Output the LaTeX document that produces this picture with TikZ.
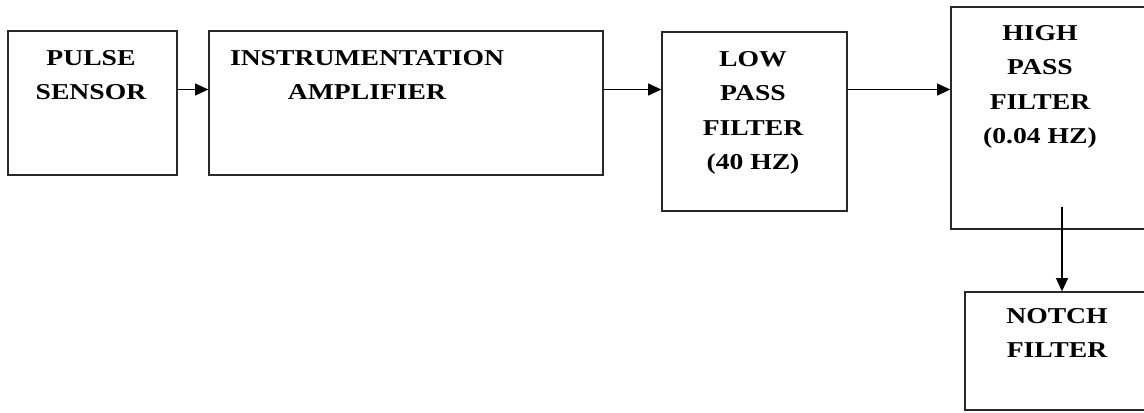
\documentclass[tikz,border=0pt]{standalone}
\usepackage{fontspec}
\setmainfont{Liberation Serif}[FakeStretch=1.22]
\usepackage{tikz}
\usetikzlibrary{arrows.meta, positioning, calc}
\definecolor{cLine}{RGB}{40,40,40}
\tikzset{
    block/.style   ={rectangle, draw=cLine, line width=1pt, inner sep=0pt},
    blocktext/.style={anchor=north, inner sep=0pt, align=center, font=\fontsize{17}{25.9}\selectfont\bfseries},
    sigarrow/.style={-{Triangle[length=10pt,width=9pt]}, line width=1.1pt, draw=black, fill=black},
}
\begin{document}
\begin{tikzpicture}[x=0.75pt, y=-0.75pt]
                \useasboundingbox (0,0) rectangle (1144,412);
                \clip (0,0) rectangle (1144,412);
                % blocks
                \node[block, minimum width=169*0.75pt, minimum height=144*0.75pt] (pulse) at (92.5,103) {};
                \node[block, minimum width=394*0.75pt, minimum height=144*0.75pt] (amp) at (406,103) {};
                \node[block, minimum width=185*0.75pt, minimum height=179*0.75pt] (lpf) at (754.5,121.5) {};
                \node[block, minimum width=229*0.75pt, minimum height=222*0.75pt] (hpf) at (1065.5,118) {};
                \node[block, minimum width=215*0.75pt, minimum height=118*0.75pt] (notch) at (1072.5,351) {};
                % labels
                \node[blocktext] (pulsetxt) at (91,50) {PULSE\\SENSOR};
                \node[blocktext] (amptxt) at (367,50) {INSTRUMENTATION\\AMPLIFIER};
                \node[blocktext] (lpftxt) at (753,51) {LOW\\PASS\\FILTER\\(40 HZ)};
                \node[blocktext] (hpftxt) at (1040,25) {HIGH\\PASS\\FILTER\\(0.04 HZ)};
                \node[blocktext] (notchtxt) at (1057,308) {NOTCH\\FILTER};
                % signal path
                \coordinate (sig) at (0,89.5);
                \coordinate (tap) at (1062,207);
                \draw[sigarrow] (pulse.east |- sig) -- (amp.west |- sig);
                \draw[sigarrow] (amp.east |- sig) -- (lpf.west |- sig);
                \draw[sigarrow] (lpf.east |- sig) -- (hpf.west |- sig);
                \draw[sigarrow] (tap) -- (tap |- notch.north);
            \end{tikzpicture}
\end{document}
